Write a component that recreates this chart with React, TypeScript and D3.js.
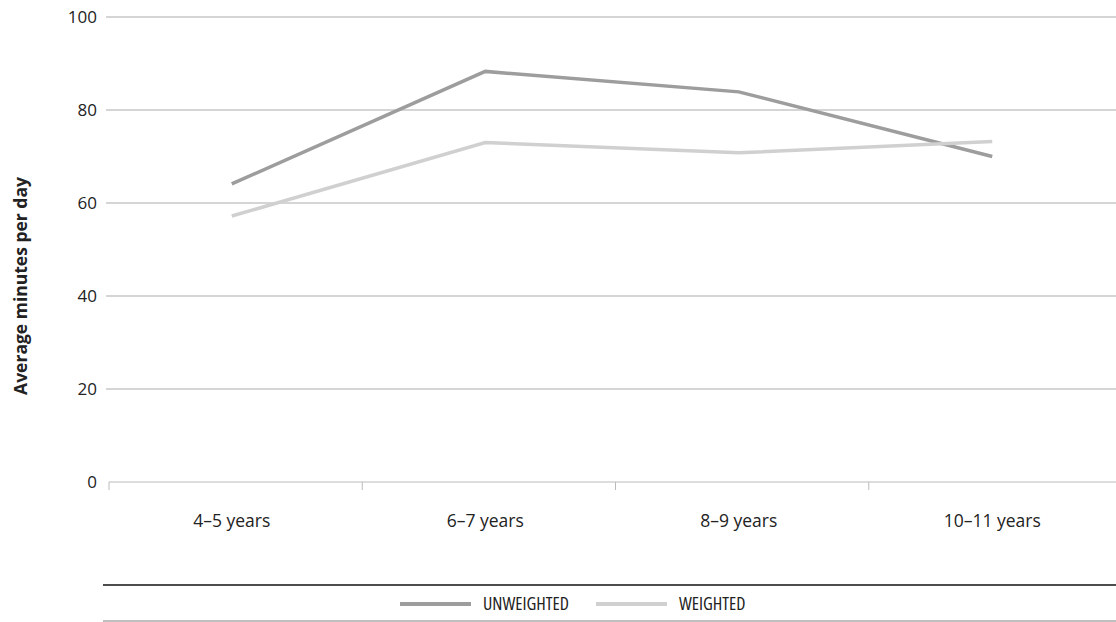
import React from "react";
import * as d3 from "d3";

const categories = ["4–5 years", "6–7 years", "8–9 years", "10–11 years"];
const unweighted = [64.1, 88.3, 83.9, 70.0];
const weighted = [57.2, 73.0, 70.8, 73.2];
const yTicks = [0, 20, 40, 60, 80, 100];
const seriesNames = ["UNWEIGHTED", "WEIGHTED"];
const seriesColors = ["#9d9d9d", "#d0d0d0"];

const W = 1116;
const H = 622;
const FONT = "'Open Sans', 'Liberation Sans', sans-serif";
const COND = { fontStretch: "condensed" } as React.CSSProperties;

export default function App() {
  const x = d3.scaleBand<string>().domain(categories).range([105, 1119]).padding(0);
  const tickX = d3.scaleBand<string>().domain(categories).range([109, 1122]).padding(0);
  const y = d3.scaleLinear().domain([0, 100]).range([482, 17]);
  const cx = (c: string) => (x(c) as number) + x.bandwidth() / 2;
  const line = d3
    .line<number>()
    .x((_, i) => cx(categories[i]))
    .y((d) => y(d));
  const series = [unweighted, weighted];

  return (
    <svg
      width={W}
      height={H}
      style={{ position: "absolute", left: 0, top: 0, background: "#fff" }}
      fontFamily={FONT}
    >
      {yTicks.map((t) => (
        <g key={t}>
          {t > 0 && (
            <line x1={106} x2={W} y1={y(t)} y2={y(t)} stroke="#ababab" strokeWidth={1} />
          )}
          <text x={97} y={y(t)} dy="0.35em" textAnchor="end" fontSize={17} fill="#222">
            {t}
          </text>
        </g>
      ))}
      <line x1={109} x2={W} y1={y(0)} y2={y(0)} stroke="#bbbbbb" strokeWidth={1} />
      {categories.map((c) => (
        <line
          key={c}
          x1={tickX(c) as number}
          x2={tickX(c) as number}
          y1={y(0)}
          y2={y(0) + 8}
          stroke="#bbbbbb"
          strokeWidth={1}
        />
      ))}
      {categories.map((c) => (
        <text key={c} x={cx(c)} y={521} dy="0.35em" textAnchor="middle" fontSize={17.5} fill="#222">
          {c}
        </text>
      ))}
      {series.map((s, i) => (
        <path
          key={i}
          d={line(s) as string}
          fill="none"
          stroke={seriesColors[i]}
          strokeWidth={3.5}
          strokeLinejoin="miter"
        />
      ))}
      <text
        transform="translate(21,286) rotate(-90)"
        textAnchor="middle"
        dy="0.35em"
        fontSize={17.5}
        fontWeight="bold"
        fill="#222"
      >
        Average minutes per day
      </text>
      <line x1={103} x2={W} y1={585} y2={585} stroke="#111" strokeWidth={1.5} />
      <line x1={103} x2={W} y1={621} y2={621} stroke="#aaa" strokeWidth={1.5} />
      {seriesNames.map((n, i) => {
        const sx = i === 0 ? 400 : 596;
        return (
          <g key={n}>
            <line x1={sx} x2={sx + 71} y1={604} y2={604} stroke={seriesColors[i]} strokeWidth={4} />
            <text x={sx + 83} y={604} dy="0.35em" fontSize={18} fill="#222" style={COND}>
              {n}
            </text>
          </g>
        );
      })}
    </svg>
  );
}
